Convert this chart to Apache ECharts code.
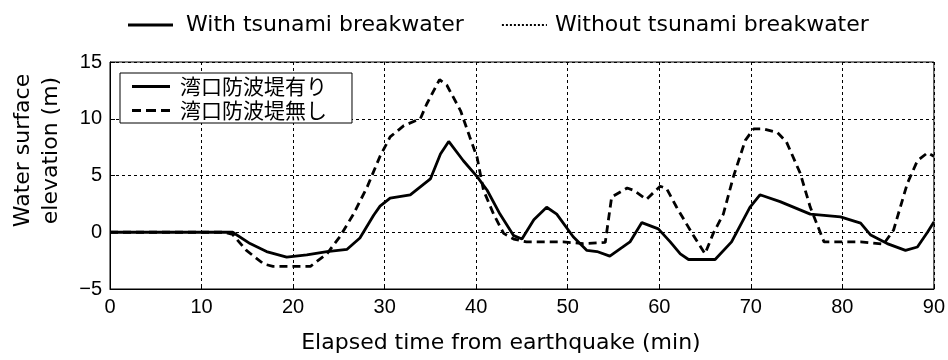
<!DOCTYPE html>
<html>
<head>
<meta charset="utf-8">
<script src="https://cdn.jsdelivr.net/npm/echarts@6/dist/echarts.min.js"></script>
<style>
html,body{margin:0;padding:0;background:#fff;}
#chart{width:948px;height:360px;}
</style>
</head>
<body>
<div id="chart"></div>
<script>
// Series names (Japanese, inner legend) and English names (top legend)
const seriesNames = ['湾口防波堤有り', '湾口防波堤無し'];
const englishNames = ['With tsunami breakwater', 'Without tsunami breakwater'];

// With tsunami breakwater: time (min) and elevation (m)
const timeWith = [0, 5, 11.8, 13.4, 15.3, 17.1, 19.3, 21.5, 23.7, 25.9, 27.3, 28.8, 29.5, 30.6, 32.8, 35.0, 36.1, 37.0, 38.6, 40.1, 41.2, 42.6, 44.1, 45.0, 46.3, 47.7, 48.8, 50.6, 52.1, 53.2, 54.6, 56.8, 58.1, 59.9, 61.2, 62.3, 63.2, 66.1, 67.9, 69.9, 71.0, 73.2, 76.5, 79.8, 82.0, 83.1, 84.9, 86.9, 88.2, 89.3, 90];
const valWith  = [0, 0, 0, 0, -1.0, -1.7, -2.2, -2.0, -1.7, -1.5, -0.5, 1.5, 2.3, 3.0, 3.3, 4.7, 6.9, 8.0, 6.3, 4.9, 3.7, 1.6, -0.3, -0.6, 1.1, 2.2, 1.6, -0.4, -1.6, -1.7, -2.1, -0.85, 0.85, 0.3, -0.85, -1.9, -2.4, -2.4, -0.85, 2.2, 3.3, 2.7, 1.6, 1.35, 0.8, -0.25, -1.0, -1.6, -1.3, 0.0, 0.9];

// Without tsunami breakwater: time (min) and elevation (m)
const timeWithout = [0, 5, 12.5, 13.4, 14.9, 16.8, 17.8, 21.9, 23.7, 25.1, 26.6, 28.1, 29.5, 30.6, 32.1, 33.9, 34.6, 36.0, 36.8, 38.3, 39.3, 40.1, 40.8, 41.9, 43.0, 44.1, 45.5, 49.5, 51.7, 54.1, 54.8, 56.5, 57.2, 58.6, 60.1, 60.8, 61.9, 63.7, 65.0, 65.9, 67.0, 68.1, 69.4, 70.3, 71.4, 72.9, 73.9, 75.4, 76.5, 78.0, 82.0, 84.5, 85.6, 87.1, 88.2, 89.3, 90];
const valWithout  = [0, 0, 0, -0.2, -1.6, -2.8, -3.0, -3.0, -1.9, -0.4, 1.6, 4.0, 6.7, 8.4, 9.4, 10.0, 11.3, 13.45, 12.95, 10.7, 8.4, 6.6, 3.7, 1.6, -0.1, -0.6, -0.85, -0.85, -1.0, -0.9, 3.1, 3.9, 3.7, 2.9, 4.05, 3.85, 2.2, -0.25, -1.9, -0.1, 1.6, 4.9, 8.1, 9.1, 9.1, 8.8, 7.95, 5.2, 2.2, -0.85, -0.85, -1.05, 0.2, 4.3, 6.3, 7.0, 6.7];

// Axis settings
const xMin = 0, xMax = 90, xStep = 10;
const yMin = -5, yMax = 15, yStep = 5;
const xTitle = 'Elapsed time from earthquake (min)';
const yTitle = 'Water surface\nelevation (m)';

const zip = (a, b) => a.map((v, i) => [v, b[i]]);
const latin = 'DejaVu Sans';
const tickFont = "'Liberation Sans', Arial, sans-serif";

// legend icon shapes (line samples)
const iconSolid = 'path://M0,0h45v3h-45z';
const iconDotted = 'path://M0,0h2v2h-2z M4,0h2v2h-2z M8,0h2v2h-2z M12,0h2v2h-2z M16,0h2v2h-2z M20,0h2v2h-2z M24,0h2v2h-2z M28,0h2v2h-2z M32,0h2v2h-2z M36,0h2v2h-2z M40,0h2v2h-2z M44,0h1v2h-1z';
const iconSolidIn = 'path://M0,0h38v3h-38z';
const iconDashedIn = 'path://M0,0h9v3h-9z M14,0h10v3h-10z M29,0h9v3h-9z';

const chart = echarts.init(document.getElementById('chart'), null, {renderer: 'canvas'});
chart.setOption({
  animation: false,
  backgroundColor: '#fff',
  grid: {left: 110, right: 14, top: 62, bottom: 71, show: true, borderColor: '#000', borderWidth: 1, backgroundColor: 'transparent'},
  legend: [
    {
      data: [
        {name: seriesNames[0], icon: iconSolid, itemStyle: {color: '#000'}, textStyle: {padding: [0, 0, 0, 8]}},
        {name: seriesNames[1], icon: iconDotted, itemStyle: {color: '#000'}, textStyle: {padding: [0, 0, 0, 3]}}
      ],
      formatter: n => englishNames[seriesNames.indexOf(n)],
      left: 123, top: 9, itemWidth: 45, itemHeight: 3, itemGap: 38,
      textStyle: {fontFamily: latin, fontSize: 22, color: '#000'}
    },
    {
      data: [
        {name: seriesNames[0], icon: iconSolidIn, itemStyle: {color: '#000'}},
        {name: seriesNames[1], icon: iconDashedIn, itemStyle: {color: '#000'}}
      ],
      orient: 'vertical',
      left: 120, top: 73,
      padding: [3, 25, 2, 12],
      itemWidth: 38, itemHeight: 3, itemGap: 3,
      borderColor: '#000', borderWidth: 1, borderRadius: 0,
      backgroundColor: '#fff',
      textStyle: {fontFamily: "'Noto Sans CJK JP'", fontSize: 21, lineHeight: 21, color: '#000', padding: [0, 0, 0, 5]}
    }
  ],
  xAxis: {
    type: 'value', min: xMin, max: xMax, interval: xStep,
    name: xTitle, nameLocation: 'middle', nameGap: 43,
    nameTextStyle: {fontFamily: latin, fontSize: 22, color: '#000', padding: [0, 42, 0, 0]},
    axisLine: {show: true, onZero: false, lineStyle: {color: '#000', width: 1}},
    axisTick: {show: true, inside: true, length: 5, lineStyle: {color: '#000'}},
    axisLabel: {fontFamily: tickFont, fontSize: 20, color: '#000', margin: 8},
    splitLine: {show: true, lineStyle: {color: '#000', width: 1, type: [3, 3]}}
  },
  yAxis: {
    type: 'value', min: yMin, max: yMax, interval: yStep,
    name: yTitle, nameLocation: 'middle', nameGap: 45, nameRotate: 90,
    nameTextStyle: {fontFamily: latin, fontSize: 22, lineHeight: 28, color: '#000', padding: [0, 0, 0, 50]},
    axisLine: {show: true, onZero: false, lineStyle: {color: '#000', width: 1}},
    axisTick: {show: true, inside: true, length: 5, lineStyle: {color: '#000'}},
    axisLabel: {fontFamily: tickFont, fontSize: 20, color: '#000', margin: 8,
      formatter: v => String(v).replace('-', '\u2212')},
    splitLine: {show: true, lineStyle: {color: '#000', width: 1, type: [3, 3]}}
  },
  series: [
    {
      name: seriesNames[0], type: 'line', data: zip(timeWith, valWith),
      symbol: 'none', showSymbol: false, smooth: false,
      lineStyle: {color: '#000', width: 2.8, type: 'solid'},
      itemStyle: {color: '#000'}, z: 3
    },
    {
      name: seriesNames[1], type: 'line', data: zip(timeWithout, valWithout),
      symbol: 'none', showSymbol: false, smooth: false,
      lineStyle: {color: '#000', width: 2.8, type: [8, 5]},
      itemStyle: {color: '#000'}, z: 2
    }
  ]
});
</script>
</body>
</html>
